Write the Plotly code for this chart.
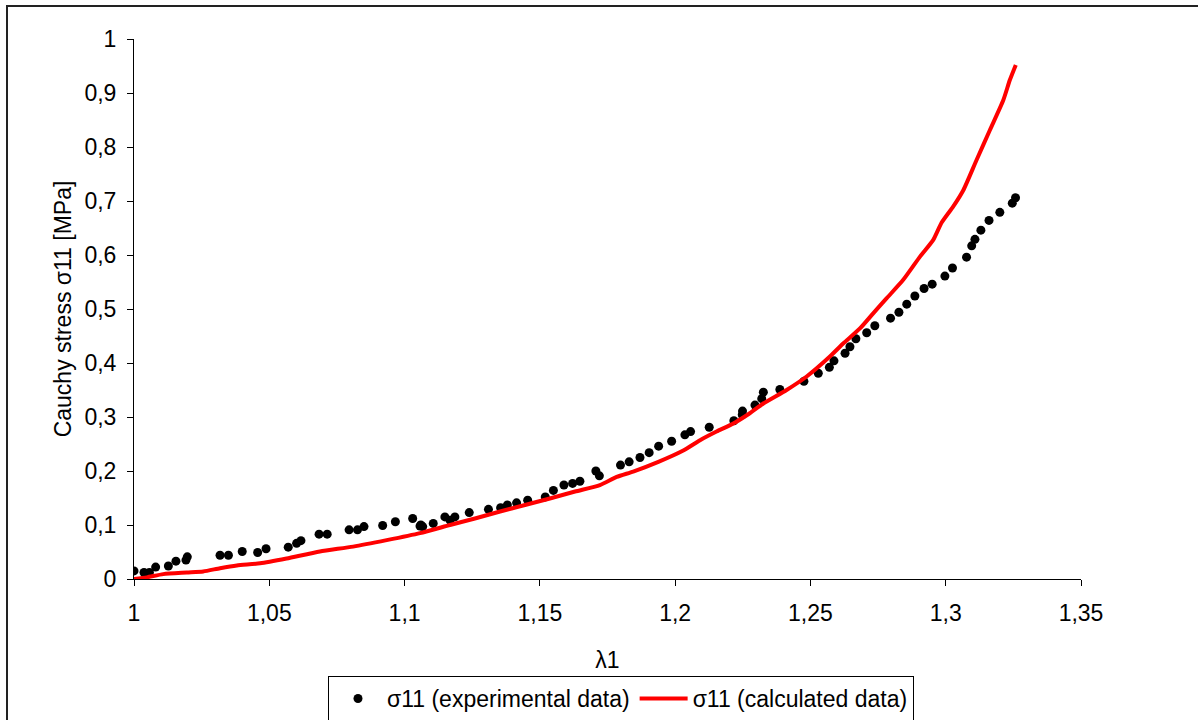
import plotly.graph_objects as go

# Experimental data (lambda1, sigma11 [MPa])
exp_lambda = [1.0, 1.0037, 1.0057, 1.008, 1.0127, 1.0155, 1.0192, 1.0197, 1.0318, 1.0349,
              1.04, 1.0457, 1.0488, 1.057, 1.0601, 1.0617, 1.0684, 1.0714, 1.0795, 1.0826,
              1.085, 1.0919, 1.0966, 1.103, 1.1057, 1.106, 1.1067, 1.1106, 1.1149, 1.1168,
              1.1186, 1.1239, 1.131, 1.1355, 1.138, 1.1414, 1.1455, 1.152, 1.155, 1.1589,
              1.1621, 1.1648, 1.1707, 1.172, 1.1798, 1.183, 1.187, 1.1904, 1.1939, 1.1987,
              1.2036, 1.2057, 1.2126, 1.2217, 1.2248, 1.2249, 1.2295, 1.232, 1.2326, 1.2387,
              1.2476, 1.2529, 1.257, 1.2587, 1.2628, 1.2646, 1.2668, 1.2708, 1.2738, 1.2796,
              1.2827, 1.2856, 1.2886, 1.292, 1.295, 1.2997, 1.3025, 1.3077, 1.3096, 1.3108,
              1.313, 1.316, 1.32, 1.3246, 1.3258]
exp_sigma = [0.015, 0.012, 0.012, 0.022, 0.024, 0.033, 0.035, 0.041, 0.044, 0.044,
             0.051, 0.049, 0.056, 0.059, 0.066, 0.071, 0.083, 0.083, 0.091, 0.091,
             0.097, 0.099, 0.106, 0.112, 0.098, 0.100, 0.097, 0.103, 0.115, 0.109,
             0.115, 0.123, 0.129, 0.132, 0.137, 0.141, 0.146, 0.152, 0.164, 0.174,
             0.177, 0.181, 0.200, 0.191, 0.211, 0.217, 0.225, 0.234, 0.246, 0.255,
             0.267, 0.273, 0.281, 0.293, 0.304, 0.311, 0.322, 0.334, 0.346, 0.351,
             0.366, 0.381, 0.392, 0.404, 0.418, 0.430, 0.445, 0.456, 0.469, 0.483,
             0.494, 0.509, 0.524, 0.538, 0.546, 0.561, 0.576, 0.596, 0.617, 0.629,
             0.646, 0.664, 0.679, 0.696, 0.706]

# Calculated data
calc_lambda = [1.0, 1.0047, 1.0108, 1.0195, 1.0256, 1.0318, 1.038, 1.0466, 1.0564, 1.0687,
               1.081, 1.0934, 1.1057, 1.1168, 1.126, 1.1353, 1.1445, 1.1537, 1.163,
               1.1722, 1.1784, 1.1845, 1.1938, 1.203, 1.2092, 1.2153, 1.2215, 1.2276,
               1.2326, 1.2412, 1.2486, 1.2572, 1.2621, 1.2683, 1.2732, 1.2782, 1.2843,
               1.2905, 1.2954, 1.2985, 1.3028, 1.3065, 1.3114, 1.3163, 1.3213, 1.3237,
               1.3259]
calc_sigma = [0.0, 0.003, 0.009, 0.012, 0.014, 0.020, 0.025, 0.029, 0.038, 0.051,
              0.060, 0.072, 0.085, 0.100, 0.112, 0.125, 0.137, 0.149, 0.162,
              0.174, 0.189, 0.199, 0.217, 0.238, 0.257, 0.273, 0.288, 0.307,
              0.325, 0.350, 0.375, 0.412, 0.436, 0.464, 0.492, 0.520, 0.554,
              0.597, 0.628, 0.660, 0.690, 0.720, 0.776, 0.831, 0.887, 0.924,
              0.952]

x_ticks = [1.0, 1.05, 1.1, 1.15, 1.2, 1.25, 1.3, 1.35]
y_ticks = [0, 0.1, 0.2, 0.3, 0.4, 0.5, 0.6, 0.7, 0.8, 0.9, 1.0]

FONT = "Liberation Sans, Arial, sans-serif"
FS = 23

fig = go.Figure()
fig.add_trace(go.Scatter(
    x=exp_lambda, y=exp_sigma, mode="markers",
    name="σ11 (experimental data)",
    marker=dict(color="black", size=9, symbol="circle"),
))
fig.add_trace(go.Scatter(
    x=calc_lambda, y=calc_sigma, mode="lines",
    name="σ11 (calculated data)",
    line=dict(color="#ff0000", width=4, shape="spline", smoothing=0.6),
))

L, R, T, B = 134, 1081, 39, 579
W, H = 1198, 720
pw, ph = R - L, B - T

def px(xp):
    return (xp - L) / pw

def py(yp):
    return (B - yp) / ph

fig.update_layout(
    width=W, height=H, autosize=False,
    margin=dict(l=L, r=W - R, t=T, b=H - B, pad=0),
    paper_bgcolor="white", plot_bgcolor="white",
    separators=", ",
    font=dict(family=FONT, size=FS, color="black"),
    showlegend=True,
    legend=dict(
        orientation="h", xref="container", yref="container",
        x=328 / W, y=1 - 676 / H, xanchor="left", yanchor="top",
        bordercolor="black", borderwidth=1, bgcolor="white",
        font=dict(family=FONT, size=FS, color="black"),
        itemwidth=48, tracegroupgap=0,
    ),
    xaxis=dict(
        range=[1.0, 1.35], tickvals=x_ticks, automargin=False,
        showgrid=False, zeroline=False, showline=True, linecolor="black", linewidth=1,
        ticks="outside", ticklen=6, tickcolor="black", tickwidth=1,
        ticklabelstandoff=7,
        title=dict(text="λ1", standoff=27, font=dict(family=FONT, size=FS)),
    ),
    yaxis=dict(
        range=[0, 1.0], tickvals=y_ticks, automargin=False,
        showgrid=False, zeroline=False, showline=True, linecolor="black", linewidth=1,
        ticks="outside", ticklen=6, tickcolor="black", tickwidth=1,
        ticklabelstandoff=6,
        title=dict(text="Cauchy stress σ11 [MPa]", standoff=6, font=dict(family=FONT, size=FS)),
    ),
    shapes=[
        dict(type="rect", xref="paper", yref="paper",
             x0=px(7), x1=px(1210), y0=py(730), y1=py(6),
             line=dict(color="#222222", width=2), fillcolor="rgba(0,0,0,0)", layer="below"),
    ],
)

fig.write_html("out.html")
